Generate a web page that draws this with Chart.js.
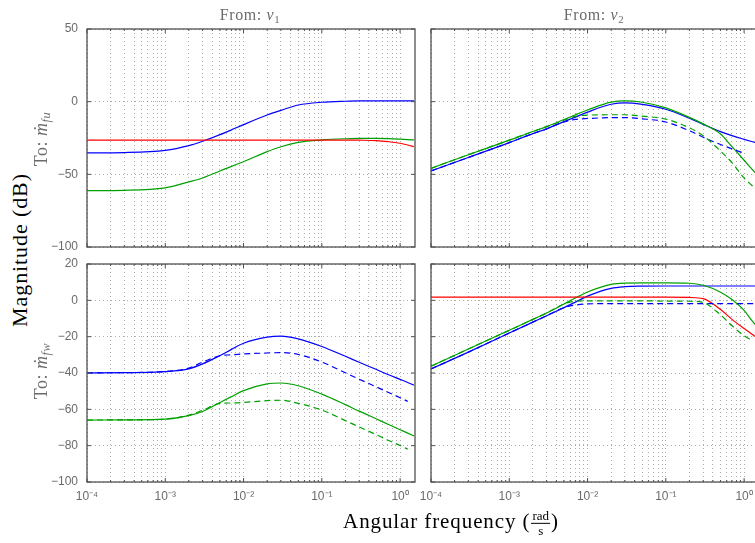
<!DOCTYPE html>
<html>
<head>
<meta charset="utf-8">
<script src="https://cdn.jsdelivr.net/npm/chart.js@4.4.0/dist/chart.umd.min.js"></script>
<style>
html, body { margin: 0; padding: 0; width: 755px; height: 543px; overflow: hidden; background: #fff; }
.box { position: absolute; }
.lbl { position: absolute; white-space: nowrap; font-family: 'Liberation Serif', 'DejaVu Serif', serif; transform: translate(-50%, -50%); }
.rot { transform: translate(-50%, -50%) rotate(-90deg); }
.gray { color: #6b6b6b; }
sub { font-size: 0.68em; vertical-align: -0.3em; line-height: 0; }
.frac { display: inline-block; vertical-align: middle; text-align: center; font-size: 13px; line-height: 1.05; margin: 0 1px; letter-spacing: 0; }
.frac span { display: block; padding: 0 1px; }
.frac .num { border-bottom: 1px solid #000; }
</style>
</head>
<body>
<div class="box" style="left:37px; top:19px;"><canvas id="tl" width="380" height="238"></canvas></div>
<div class="box" style="left:409px; top:19px;"><canvas id="tr" width="354" height="238"></canvas></div>
<div class="box" style="left:37px; top:254px;"><canvas id="bl" width="380" height="258"></canvas></div>
<div class="box" style="left:409px; top:254px;"><canvas id="br" width="354" height="258"></canvas></div>

<div class="lbl gray" style="left:250px; top:15px; font-size:16px; letter-spacing:0.6px;">From: <i>ν</i><sub>1</sub></div>
<div class="lbl gray" style="left:594px; top:15px; font-size:16px; letter-spacing:0.6px;">From: <i>ν</i><sub>2</sub></div>
<div class="lbl rot" style="left:20px; top:250px; font-size:22px; letter-spacing:0.9px;">Magnitude (dB)</div>
<div class="lbl rot gray" style="left:41px; top:139px; font-size:18px; letter-spacing:0.5px;">To: <i>ṁ</i><sub><i>fu</i></sub></div>
<div class="lbl rot gray" style="left:41px; top:371px; font-size:18px; letter-spacing:0.5px;">To: <i>ṁ</i><sub><i>fw</i></sub></div>
<div class="lbl" style="left:451px; top:523px; font-size:21px; letter-spacing:0.9px;">Angular frequency (<span class="frac"><span class="num">rad</span><span>s</span></span>)</div>

<script>
// frequencies (rad/s) shared by all curves
const FREQ = [1e-4, 3e-4, 1e-3, 2e-3, 3e-3, 5e-3, 7e-3, 1e-2, 2e-2, 3e-2, 5e-2, 0.1, 0.2, 0.3, 0.5, 0.7, 1, 1.25, 1.5];
const X_MIN = 1e-4;
const X_MAX = 1.55;

// To m_fu, From nu1
const fuN1Blue  = [-35.2, -35.0, -33.5, -30.2, -27.2, -22.7, -19.4, -15.8, -9.2, -6.0, -2.3, -0.4, 0.3, 0.5, 0.5, 0.5, 0.5, 0.5, 0.5];
const fuN1Green = [-61.2, -61.0, -59.3, -55.2, -52.5, -47.7, -44.5, -41.3, -34.4, -31.0, -28.0, -26.3, -25.5, -25.3, -25.2, -25.4, -25.8, -26.1, -26.3];
const fuN1Red   = [-26.4, -26.4, -26.4, -26.4, -26.4, -26.4, -26.4, -26.4, -26.4, -26.4, -26.4, -26.4, -26.4, -26.5, -26.8, -27.5, -28.6, -29.8, -31.0];

// To m_fw, From nu1
const fwN1Blue      = [-39.9, -39.8, -39.2, -37.7, -35.0, -30.4, -27.0, -23.6, -20.3, -19.7, -21.2, -25.4, -30.8, -34.1, -38.1, -40.8, -43.5, -45.2, -46.7];
const fwN1BlueDash  = [-39.9, -39.8, -39.2, -37.3, -34.0, -30.5, -30.0, -29.5, -29.0, -28.8, -29.8, -34.0, -39.9, -43.4, -47.7, -50.6, -53.6, -55.6, null];
const fwN1Green     = [-65.9, -65.8, -65.4, -63.5, -61.2, -56.2, -53.0, -49.7, -46.0, -45.5, -47.0, -51.6, -57.4, -61.0, -65.3, -68.2, -71.2, -73.1, -74.6];
const fwN1GreenDash = [-65.9, -65.8, -65.4, -63.2, -60.5, -56.7, -56.5, -56.2, -55.2, -55.0, -56.7, -60.4, -66.2, -69.7, -74.0, -77.0, -79.9, -81.9, null];

// To m_fu, From nu2
const fuN2Blue      = [-47.7, -38.4, -28.2, -22.0, -18.7, -13.7, -10.6, -7.2, -1.8, -0.8, -1.8, -5.2, -11.4, -15.6, -20.6, -23.4, -25.9, -27.4, -28.6];
const fuN2BlueDash  = [-47.7, -38.4, -28.2, -22.0, -18.7, -14.0, -12.2, -11.6, -11.0, -11.0, -11.8, -14.0, -20.0, -24.5, -29.5, -32.5, -35.5, null, null];
const fuN2Green     = [-45.9, -36.5, -26.5, -20.5, -17.2, -12.3, -9.0, -5.7, -0.3, 0.6, -0.4, -4.3, -10.8, -15.3, -22.3, -31.0, -40.3, -46.2, -51.0];
const fuN2GreenDash = [-45.9, -36.5, -26.5, -20.5, -17.2, -12.8, -10.0, -9.3, -9.0, -9.0, -10.0, -12.0, -18.0, -23.5, -34.0, -42.0, -52.5, -57.5, -61.5];

// To m_fw, From nu2
const fwN2Blue      = [-37.8, -28.5, -18.0, -12.0, -8.5, -4.0, -1.0, 2.3, 6.6, 7.5, 7.8, 7.9, 7.9, 7.9, 7.9, 7.9, 7.9, 7.9, 7.9];
const fwN2BlueDash  = [-37.8, -28.5, -18.0, -12.0, -8.5, -4.0, -2.6, -2.0, -1.8, -1.8, -1.8, -1.8, -1.8, -1.8, -1.8, -1.8, -1.8, -1.8, -1.8];
const fwN2Green     = [-36.3, -26.8, -16.5, -10.5, -7.0, -2.0, 1.3, 4.6, 8.8, 9.5, 9.6, 9.6, 9.4, 8.3, 4.5, 0.5, -5.5, -11.0, -15.0];
const fwN2GreenDash = [-36.3, -26.8, -16.5, -10.5, -7.0, -2.0, -0.5, -0.3, -0.3, -0.3, -0.3, -0.4, -0.5, -1.2, -8.0, -14.0, -19.5, -22.0, null];
const fwN2Red       = [1.8, 1.8, 1.8, 1.8, 1.8, 1.8, 1.8, 1.8, 1.8, 1.8, 1.8, 1.8, 1.6, 0.9, -5.0, -10.5, -15.5, -18.5, -21.0];

const BLUE = '#0000ff';
const GREEN = '#00a000';
const RED = '#ff0000';
const GRID = 'rgba(0,0,0,0.32)';

Chart.defaults.font.family = "'Liberation Sans', Arial, sans-serif";
Chart.defaults.font.size = 12;
Chart.defaults.color = '#6b6b6b';

const SUP = {'-': '\u207b', '0': '\u2070', '1': '\u00b9', '2': '\u00b2', '3': '\u00b3', '4': '\u2074'};
const X_TICKS = [];
for (let e = -4; e <= 0; e++) {
    for (let m = 1; m <= 9; m++) {
        const v = m * Math.pow(10, e);
        if (v <= X_MAX) X_TICKS.push(v);
    }
}

function isDecade(v){
    const p = Math.log10(v);
    return Math.abs(p - Math.round(p)) < 1e-6;
}

function decadeLabel(v){
    if (!isDecade(v)) return '';
    return '10' + String(Math.round(Math.log10(v))).split('').map(c => SUP[c]).join('');
}

// box round the axes plus small inward tick marks, like MATLAB
const frame = {
    id: 'frame',
    afterDraw(chart){
        const {ctx, chartArea: a, scales} = chart;
        ctx.save();
        ctx.strokeStyle = '#505050';
        ctx.lineWidth = 1;
        ctx.beginPath();
        scales.x.ticks.forEach(t => {
            const px = scales.x.getPixelForValue(t.value);
            const len = isDecade(t.value) ? 4 : 2;
            ctx.moveTo(px, a.bottom); ctx.lineTo(px, a.bottom - len);
            ctx.moveTo(px, a.top); ctx.lineTo(px, a.top + len);
        });
        scales.y.ticks.forEach(t => {
            const py = scales.y.getPixelForValue(t.value);
            ctx.moveTo(a.left, py); ctx.lineTo(a.left + 4, py);
            ctx.moveTo(a.right, py); ctx.lineTo(a.right - 4, py);
        });
        ctx.stroke();
        ctx.lineWidth = 1.3;
        ctx.strokeRect(a.left, a.top, a.right - a.left, a.bottom - a.top);
        ctx.restore();
    }
};

function line(values, color, dash){
    return {
        data: FREQ.map((f, i) => ({x: f, y: values[i]})),
        borderColor: color,
        borderWidth: 1.2,
        borderDash: dash ? [6, 4] : [],
        pointRadius: 0,
        cubicInterpolationMode: 'monotone',
        fill: false
    };
}

function panel(id, datasets, yMin, yMax, yStep, showX, showY, pad){
    new Chart(document.getElementById(id), {
        type: 'line',
        data: { datasets: datasets },
        options: {
            responsive: false,
            animation: false,
            events: [],
            layout: { padding: pad },
            plugins: { legend: { display: false }, tooltip: { enabled: false } },
            scales: {
                x: {
                    type: 'logarithmic',
                    min: X_MIN,
                    max: X_MAX,
                    afterBuildTicks: sc => { sc.ticks = X_TICKS.map(v => ({value: v})); },
                    afterFit: sc => {
                        sc.height = showX ? 30 : 0;
                        sc.paddingLeft = 0; sc.paddingRight = 0; sc.paddingTop = 0; sc.paddingBottom = 0;
                    },
                    ticks: { display: showX, autoSkip: false, maxRotation: 0, padding: 7, callback: v => decadeLabel(v) },
                    grid: { color: GRID, drawTicks: false },
                    border: { display: false, dash: [1, 3] }
                },
                y: {
                    min: yMin,
                    max: yMax,
                    afterFit: sc => {
                        sc.width = showY ? 50 : 0;
                        sc.paddingLeft = 0; sc.paddingRight = 0; sc.paddingTop = 0; sc.paddingBottom = 0;
                    },
                    ticks: { display: showY, stepSize: yStep, padding: 9, callback: v => String(v).replace('-', '\u2212') },
                    grid: { color: GRID, drawTicks: false },
                    border: { display: false, dash: [1, 3] }
                }
            }
        },
        plugins: [frame]
    });
}

panel('tl', [
    line(fuN1Red, RED),
    line(fuN1Green, GREEN),
    line(fuN1Blue, BLUE)
], -100, 50, 50, false, true, {top: 10, right: 2, bottom: 10, left: 0});

panel('tr', [
    line(fuN2GreenDash, GREEN, true),
    line(fuN2BlueDash, BLUE, true),
    line(fuN2Green, GREEN),
    line(fuN2Blue, BLUE)
], -100, 50, 50, false, false, {top: 10, right: 4, bottom: 10, left: 22});

panel('bl', [
    line(fwN1GreenDash, GREEN, true),
    line(fwN1BlueDash, BLUE, true),
    line(fwN1Green, GREEN),
    line(fwN1Blue, BLUE)
], -100, 20, 20, true, true, {top: 10, right: 2, bottom: 0, left: 0});

panel('br', [
    line(fwN2GreenDash, GREEN, true),
    line(fwN2BlueDash, BLUE, true),
    line(fwN2Red, RED),
    line(fwN2Green, GREEN),
    line(fwN2Blue, BLUE)
], -100, 20, 20, true, false, {top: 10, right: 4, bottom: 0, left: 22});
</script>
</body>
</html>
